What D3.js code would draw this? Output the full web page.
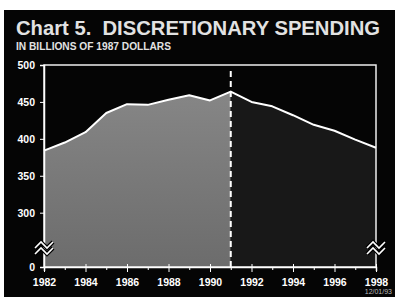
<!DOCTYPE html>
<html>
<head>
<meta charset="utf-8">
<script src="https://cdn.jsdelivr.net/npm/d3@7"></script>
<style>
  html, body { margin: 0; padding: 0; background: #fff; }
  svg { display: block; font-family: "Liberation Sans", Arial, Helvetica, sans-serif; }
  .axis text { fill: #fff; font-weight: bold; font-size: 10.5px; }
  .axis line, .axis path { stroke: #fff; }
</style>
</head>
<body>
<div id="chart"></div>
<script>
// Discretionary spending, billions of 1987 dollars
const years  = [1982, 1983, 1984, 1985, 1986, 1987, 1988, 1989, 1990,
                1991, 1992, 1993, 1994, 1995, 1996, 1997, 1998];
const values = [384, 395, 409, 435, 447, 446, 453, 459, 452,
                464, 450, 444, 432, 419, 411, 399, 388];
const splitYear = 1991;            // actual | projected
const yTicks = [0, 300, 350, 400, 450, 500];
const xLabelYears = [1982, 1984, 1986, 1988, 1990, 1992, 1994, 1996, 1998];
const title = "Chart 5.  DISCRETIONARY SPENDING";
const subtitle = "IN BILLIONS OF 1987 DOLLARS";
const stamp = "12/01/93";

const W = 400, H = 306;
const series = years.map((y, i) => ({ year: y, value: values[i] }));

const svg = d3.select("#chart").append("svg")
  .attr("width", W).attr("height", H);

// Black panel
svg.append("rect")
  .attr("x", 4).attr("y", 10).attr("width", 391).attr("height", 287)
  .attr("fill", "#050505");

// Titles
svg.append("text")
  .attr("x", 16).attr("y", 35)
  .attr("fill", "#e2e2e2")
  .attr("font-size", 21).attr("font-weight", "bold")
  .attr("textLength", 364).attr("lengthAdjust", "spacingAndGlyphs")
  .style("white-space", "pre")
  .text(title);

svg.append("text")
  .attr("x", 16).attr("y", 50)
  .attr("fill", "#e2e2e2")
  .attr("font-size", 10).attr("font-weight", "bold")
  .attr("textLength", 155).attr("lengthAdjust", "spacingAndGlyphs")
  .text(subtitle);

svg.append("text")
  .attr("x", 392).attr("y", 294)
  .attr("text-anchor", "end")
  .attr("fill", "#bbb")
  .attr("font-size", 7)
  .text(stamp);

// Scales (broken y axis: 0 sits just under the break)
const x = d3.scaleLinear().domain([1982, 1998]).range([44, 376]);
const y = d3.scaleLinear().domain([0, 250, 500]).range([267, 249.6, 65]);

const defs = svg.append("defs");
const grad = defs.append("linearGradient")
  .attr("id", "histFill").attr("x1", 0).attr("y1", 0).attr("x2", 0).attr("y2", 1);
grad.append("stop").attr("offset", "0%").attr("stop-color", "#868686");
grad.append("stop").attr("offset", "100%").attr("stop-color", "#6c6c6c");

const area = d3.area()
  .x(d => x(d.year))
  .y0(y(0))
  .y1(d => y(d.value));

svg.append("path")
  .datum(series.filter(d => d.year <= splitYear))
  .attr("fill", "url(#histFill)")
  .attr("d", area);

svg.append("path")
  .datum(series.filter(d => d.year >= splitYear))
  .attr("fill", "#181818")
  .attr("d", area);

// Frame
svg.append("rect")
  .attr("x", x(1982)).attr("y", y(500))
  .attr("width", x(1998) - x(1982)).attr("height", y(0) - y(500))
  .attr("fill", "none").attr("stroke", "#eee").attr("stroke-width", 1.5);

// Line
svg.append("path")
  .datum(series)
  .attr("fill", "none")
  .attr("stroke", "#fff")
  .attr("stroke-width", 2)
  .attr("stroke-linejoin", "round")
  .attr("d", d3.line().x(d => x(d.year)).y(d => y(d.value)));

// Dashed divider at 1991
svg.append("line")
  .attr("x1", x(splitYear)).attr("x2", x(splitYear))
  .attr("y1", y(500) + 6).attr("y2", y(0))
  .attr("stroke", "#fff").attr("stroke-width", 2)
  .attr("stroke-dasharray", "6,4");

// Axes
svg.append("g").attr("class", "axis")
  .attr("transform", `translate(${x(1982)},0)`)
  .call(d3.axisLeft(y).tickValues(yTicks).tickSize(4).tickPadding(5).tickFormat(d3.format("d")))
  .call(g => g.select(".domain").attr("stroke-width", 1.5));

svg.append("g").attr("class", "axis")
  .attr("transform", `translate(0,${y(0)})`)
  .call(d3.axisBottom(x).tickValues(years).tickSize(4).tickPadding(5)
    .tickFormat(d => xLabelYears.includes(d) ? d : ""))
  .call(g => g.select(".domain").attr("stroke-width", 1.5))
  .call(g => g.selectAll(".tick text").attr("dy", "0.95em"))
  .call(g => g.selectAll(".tick line")
    .attr("y1", d => xLabelYears.includes(d) ? -3 : 0)
    .attr("y2", d => xLabelYears.includes(d) ? 5 : 3));

// Axis break marks
function breakMark(cx, cy) {
  const g = svg.append("g").attr("transform", `translate(${cx},${cy})`);
  const d = [-3, 3].map(off => `M-9,${off + 3} L-3,${off - 3} L3,${off + 3} L9,${off - 3}`).join(" ");
  g.append("path").attr("d", d)
    .attr("fill", "none").attr("stroke", "#000").attr("stroke-width", 4);
  g.append("path").attr("d", d)
    .attr("fill", "none").attr("stroke", "#fff").attr("stroke-width", 1.6);
}
breakMark(x(1982), 248);
breakMark(x(1998), 248);
</script>
</body>
</html>
